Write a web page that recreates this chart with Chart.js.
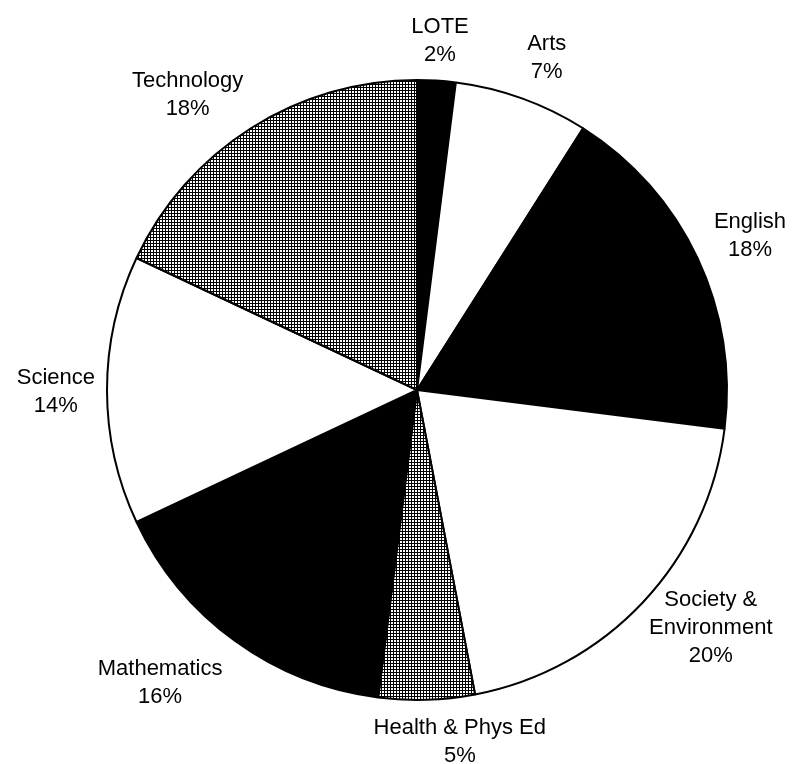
<!DOCTYPE html>
<html>
<head>
<meta charset="utf-8">
<script src="https://cdn.jsdelivr.net/npm/chart.js@4.4.1/dist/chart.umd.min.js"></script>
<style>
  html, body { margin: 0; padding: 0; background: #fff; }
  #pieChart { display: block; }
</style>
</head>
<body>
<canvas id="pieChart" width="792" height="764"></canvas>
<script>
// Chart data
const subjects = ['LOTE', 'Arts', 'English', 'Society &\nEnvironment', 'Health & Phys Ed', 'Mathematics', 'Science', 'Technology'];
const shares = [2, 7, 18, 20, 5, 16, 14, 18];
const fillKinds = ['black', 'white', 'black', 'white', 'grid', 'black', 'white', 'grid'];

// label nudges so text sits roughly where the original put it
const labelNudge = [[1, 0], [14, -3], [9, -5], [14, -11], [30, 2], [-31, 10], [0, 2], [-27, 0]];

// fine grid fill, 2px white cells with 1px black lines
function makeGridPattern(ctx) {
    const tile = document.createElement('canvas');
    tile.width = 3;
    tile.height = 3;
    const t = tile.getContext('2d');
    t.fillStyle = '#fff';
    t.fillRect(0, 0, 3, 3);
    t.fillStyle = '#000';
    t.fillRect(0, 0, 3, 1);
    t.fillRect(0, 0, 1, 3);
    return ctx.createPattern(tile, 'repeat');
}

const outsideLabels = {
    id: 'outsideLabels',
    afterDatasetsDraw(chart) {
        const ctx = chart.ctx;
        const meta = chart.getDatasetMeta(0);
        const total = shares.reduce((a, b) => a + b, 0);
        const fontSize = 22;
        const lineH = 28;
        ctx.save();
        ctx.font = fontSize + 'px "Liberation Sans", Arial, sans-serif';
        ctx.fillStyle = '#000';
        ctx.textAlign = 'center';
        ctx.textBaseline = 'middle';
        meta.data.forEach((arc, i) => {
            const p = arc.getProps(['x', 'y', 'startAngle', 'endAngle', 'outerRadius'], true);
            const mid = (p.startAngle + p.endAngle) / 2;
            const dx = Math.cos(mid);
            const dy = Math.sin(mid);
            const lines = subjects[i].split('\n');
            lines.push(Math.round(shares[i] / total * 100) + '%');
            const w = Math.max(...lines.map(l => ctx.measureText(l).width));
            const h = lines.length * lineH;
            const r = p.outerRadius + 12;
            const cx = p.x + r * dx + dx * w / 2 + labelNudge[i][0];
            const cy = p.y + r * dy + dy * h / 2 + labelNudge[i][1];
            lines.forEach((l, k) => {
                ctx.fillText(l, cx, cy - h / 2 + lineH * (k + 0.5));
            });
        });
        ctx.restore();
    }
};

const ctx = document.getElementById('pieChart').getContext('2d');
const grid = makeGridPattern(ctx);
const fills = fillKinds.map(k => k === 'grid' ? grid : (k === 'black' ? '#000' : '#fff'));

new Chart(ctx, {
    type: 'pie',
    data: {
        labels: subjects,
        datasets: [{
            data: shares,
            backgroundColor: fills,
            borderColor: '#000',
            borderWidth: 2
        }]
    },
    options: {
        responsive: false,
        animation: false,
        devicePixelRatio: 1,
        layout: {
            padding: { left: 106, right: 64, top: 79, bottom: 63 }
        },
        plugins: {
            legend: { display: false },
            tooltip: { enabled: false }
        }
    },
    plugins: [outsideLabels]
});
</script>
</body>
</html>
